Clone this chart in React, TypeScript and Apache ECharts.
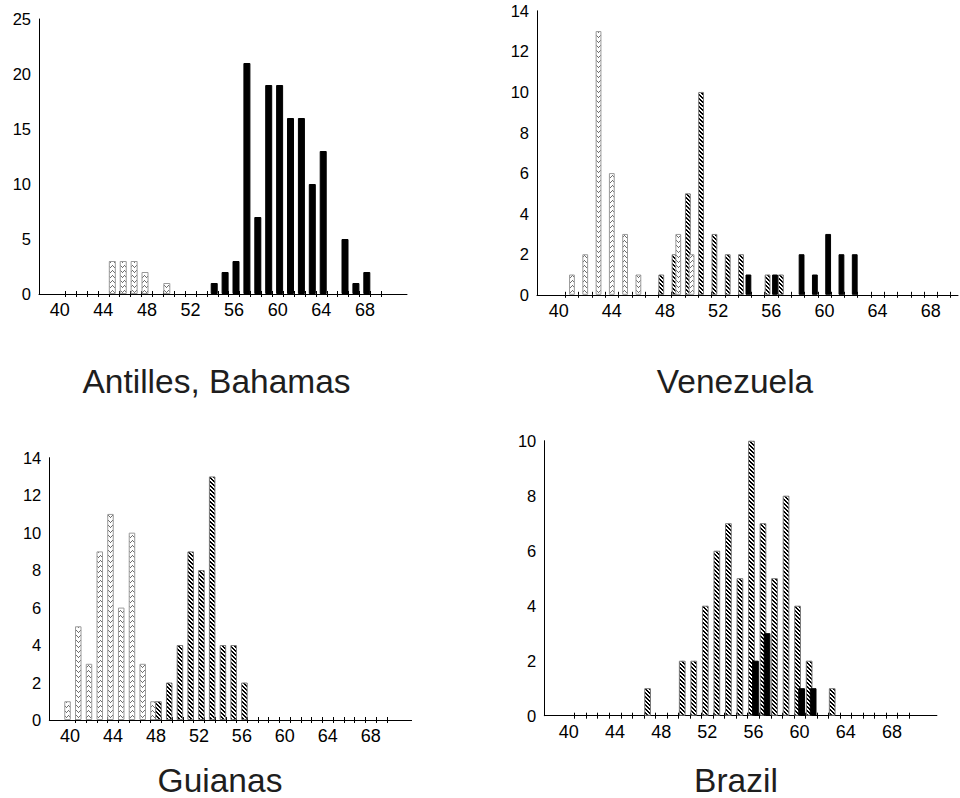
import React, { useEffect, useRef } from "react";
import * as echarts from "echarts";

// ---------- tick labels ----------
const xLabelValues = [40, 44, 48, 52, 56, 60, 64, 68];
const xTickValues = [
  40.5, 41.5, 42.5, 43.5, 44.5, 45.5, 46.5, 47.5, 48.5, 49.5, 50.5, 51.5, 52.5, 53.5, 54.5,
  55.5, 56.5, 57.5, 58.5, 59.5, 60.5, 61.5, 62.5, 63.5, 64.5, 65.5, 66.5, 67.5, 68.5, 69.5,
];

// ---------- Antilles, Bahamas ----------
const antillesLightBins = [45, 46, 47, 48, 50];
const antillesLightCounts = [3, 3, 3, 2, 1];
const antillesBlackBins = [54, 55, 56, 57, 58, 59, 60, 61, 62, 63, 64, 66, 67, 68];
const antillesBlackCounts = [1, 2, 3, 21, 7, 19, 19, 16, 16, 10, 13, 5, 1, 2];

// ---------- Venezuela ----------
const venezuelaHatchBins = [48, 49, 50, 51, 52, 53, 54, 56, 57];
const venezuelaHatchCounts = [1, 2, 5, 10, 3, 2, 2, 1, 1];
const venezuelaLightBins = [41, 42, 43, 44, 45, 46, 49, 50];
const venezuelaLightCounts = [1, 2, 13, 6, 3, 1, 3, 2];
const venezuelaBlackBins = [54, 56, 58, 59, 60, 61, 62];
const venezuelaBlackCounts = [1, 1, 2, 1, 3, 2, 2];

// ---------- Guianas ----------
const guianasLightBins = [40, 41, 42, 43, 44, 45, 46, 47, 48];
const guianasLightCounts = [1, 5, 3, 9, 11, 6, 10, 3, 1];
const guianasHatchBins = [48, 49, 50, 51, 52, 53, 54, 55, 56];
const guianasHatchCounts = [1, 2, 4, 9, 8, 13, 4, 4, 2];

// ---------- Brazil ----------
const brazilHatchBins = [47, 50, 51, 52, 53, 54, 55, 56, 57, 58, 59, 60, 61, 63];
const brazilHatchCounts = [1, 2, 2, 4, 6, 7, 5, 10, 7, 5, 8, 4, 2, 1];
const brazilBlackBins = [56, 57, 60, 61];
const brazilBlackCounts = [2, 3, 1, 1];

const titles = ["Antilles, Bahamas", "Venezuela", "Guianas", "Brazil"];

const FONT = "'Liberation Sans', Arial, Helvetica, sans-serif";

function makeTile(w: number, h: number, fn: (x: number, y: number) => string | null) {
  const c = document.createElement("canvas");
  c.width = w;
  c.height = h;
  const ctx = c.getContext("2d")!;
  ctx.fillStyle = "#ffffff";
  ctx.fillRect(0, 0, w, h);
  for (let y = 0; y < h; y++) {
    for (let x = 0; x < w; x++) {
      const col = fn(x, y);
      if (col) {
        ctx.fillStyle = col;
        ctx.fillRect(x, y, 1, 1);
      }
    }
  }
  return c;
}

function pairs(bins: number[], counts: number[]) {
  return bins.map((b, i) => [b, counts[i]]);
}

export default function App() {
  const ref = useRef<HTMLDivElement>(null);

  useEffect(() => {
    if (!ref.current) return;
    const chart = echarts.init(ref.current, undefined, { renderer: "svg" });

    const zig = makeTile(4, 5, (x, y) => {
      if (y === 0 && x === 0) return "#707070";
      if (y === 1 && (x === 1 || x === 3)) return "#707070";
      if (y === 2 && x === 2) return "#707070";
      return null;
    });
    const hatch = makeTile(4, 4, (x, y) => (((x - y + 8) % 4) < 2 ? "#000000" : null));

    const styles: Record<string, any> = {
      light: {
        color: { image: zig, repeat: "repeat" },
        borderColor: "#9a9a9a",
        borderWidth: 1,
      },
      hatch: {
        color: { image: hatch, repeat: "repeat" },
        borderColor: "#777777",
        borderWidth: 1,
      },
      black: { color: "#000000", borderColor: "#000000", borderWidth: 1 },
    };

    const panels = [
      {
        grid: { left: 39, top: 19, width: 368, height: 275 },
        xMin: 38.1, xMax: 71.86, yMax: 25, yInterval: 5,
        barWidth: 7, barGap: "-46%",
        series: [
          { kind: "light", data: pairs(antillesLightBins, antillesLightCounts) },
          { kind: "black", data: pairs(antillesBlackBins, antillesBlackCounts) },
        ],
        title: { x: 216.5, y: 381.5 },
      },
      {
        grid: { left: 537, top: 10.8, width: 421, height: 284 },
        xMin: 38.37, xMax: 70.05, yMax: 14, yInterval: 2,
        barWidth: 5.8, barGap: "-36%",
        series: [
          { kind: "hatch", data: pairs(venezuelaHatchBins, venezuelaHatchCounts) },
          { kind: "light", data: pairs(venezuelaLightBins, venezuelaLightCounts) },
          { kind: "black", data: pairs(venezuelaBlackBins, venezuelaBlackCounts) },
        ],
        title: { x: 735, y: 381.5 },
      },
      {
        grid: { left: 49.3, top: 457.7, width: 362.3, height: 262.3 },
        xMin: 38.07, xMax: 71.8, yMax: 14, yInterval: 2,
        barWidth: 6.5, barGap: "-23%",
        series: [
          { kind: "light", data: pairs(guianasLightBins, guianasLightCounts) },
          { kind: "hatch", data: pairs(guianasHatchBins, guianasHatchCounts) },
        ],
        title: { x: 220, y: 780.5 },
      },
      {
        grid: { left: 544.3, top: 440.7, width: 392.6, height: 275 },
        xMin: 37.87, xMax: 71.9, yMax: 10, yInterval: 2,
        barWidth: 6.7, barGap: "-40%",
        series: [
          { kind: "hatch", data: pairs(brazilHatchBins, brazilHatchCounts) },
          { kind: "black", data: pairs(brazilBlackBins, brazilBlackCounts) },
        ],
        title: { x: 736, y: 780.5 },
      },
    ];

    const grid: any[] = [];
    const xAxis: any[] = [];
    const yAxis: any[] = [];
    const series: any[] = [];
    const graphic: any[] = [];

    panels.forEach((p, i) => {
      grid.push({ ...p.grid, containLabel: false });
      xAxis.push({
        type: "value",
        gridIndex: i,
        position: "bottom",
        min: p.xMin,
        max: p.xMax,
        axisLine: { show: true, onZero: false, lineStyle: { color: "#000", width: 1 } },
        axisTick: {
          show: true,
          customValues: xTickValues,
          length: 3,
          inside: false,
          lineStyle: { color: "#000", width: 1 },
        },
        axisLabel: {
          show: true,
          customValues: xLabelValues,
          fontSize: 18,
          color: "#000",
          margin: 7,
          fontFamily: FONT,
        },
        splitLine: { show: false },
      });
      yAxis.push({
        type: "value",
        gridIndex: i,
        min: 0,
        max: p.yMax,
        interval: p.yInterval,
        axisLine: { show: true, onZero: false, lineStyle: { color: "#000", width: 1 } },
        axisTick: { show: false },
        axisLabel: { fontSize: 16.5, color: "#000", margin: 8, fontFamily: FONT },
        splitLine: { show: false },
      });
      p.series.forEach((s) => {
        series.push({
          type: "bar",
          xAxisIndex: i,
          yAxisIndex: i,
          data: s.data,
          barWidth: p.barWidth,
          barGap: p.barGap,
          itemStyle: styles[s.kind],
          emphasis: { disabled: true },
          silent: true,
        });
      });
      graphic.push({
        type: "text",
        x: p.title.x,
        y: p.title.y,
        silent: true,
        style: {
          text: titles[i],
          fontSize: 33.5,
          fontFamily: FONT,
          fill: "#1e1e1e",
          textAlign: "center",
          textVerticalAlign: "middle",
        },
      });
    });

    // second set of x axes: tick marks on the inner side, so ticks cross the axis line
    panels.forEach((p, i) => {
      xAxis.push({
        type: "value",
        gridIndex: i,
        position: "bottom",
        min: p.xMin,
        max: p.xMax,
        axisLine: { show: false, onZero: false },
        axisTick: {
          show: true,
          customValues: xTickValues,
          length: 3,
          inside: true,
          lineStyle: { color: "#000", width: 1 },
        },
        axisLabel: { show: false },
        splitLine: { show: false },
      });
    });

    chart.setOption({
      animation: false,
      backgroundColor: "#ffffff",
      grid,
      xAxis,
      yAxis,
      series,
      graphic,
    });

    return () => chart.dispose();
  }, []);

  return (
    <div
      ref={ref}
      style={{ position: "absolute", left: 0, top: 0, width: 960, height: 798 }}
    />
  );
}
